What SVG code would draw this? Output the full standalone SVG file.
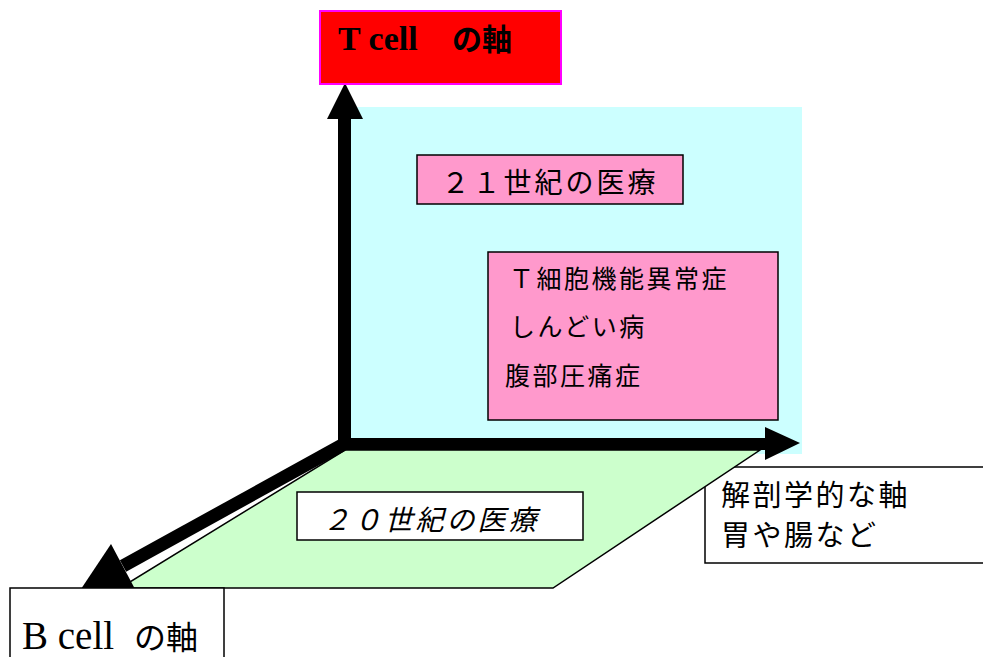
<svg xmlns="http://www.w3.org/2000/svg" width="983" height="657" viewBox="0 0 983 657">
<style>
.box{stroke:#000;stroke-width:1.5}
.cjk{font-family:"Noto Sans CJK JP",sans-serif;fill:#000}
.ser{font-family:"Liberation Serif","Noto Sans CJK JP",serif;fill:#000}
.arr{fill:#000}
</style>
<rect width="983" height="657" fill="#fff"/>
<g id="plane-21">
<rect x="345" y="107" width="457" height="347" fill="#CCFFFF"/>
</g>
<g id="node-21c">
<rect class="box" x="417" y="155" width="266" height="49" fill="#FF99CC"/>
<text class="cjk" x="550" y="193" font-size="28" letter-spacing="3" text-anchor="middle">２１世紀の医療</text>
</g>
<g id="node-tcell-disease">
<rect class="box" x="488" y="252" width="290" height="168" fill="#FF99CC"/>
<text class="cjk" font-size="25" letter-spacing="2.5"><tspan x="509" y="288">Ｔ細胞機能異常症</tspan><tspan x="510" y="336">しんどい病</tspan><tspan x="505" y="385">腹部圧痛症</tspan></text>
</g>
<g id="node-anatomy">
<rect class="box" x="705" y="467" width="290" height="96" fill="#fff"/>
<text class="cjk" font-size="29" letter-spacing="2.5"><tspan x="721" y="506">解剖学的な軸</tspan><tspan x="721" y="546">胃や腸など</tspan></text>
</g>
<g id="plane-20">
<polygon class="box" points="345,450 760,450 553,588 120,588" fill="#CCFFCC"/>
</g>
<g id="connectors">
<rect class="arr" x="338" y="118" width="13" height="332"/>
<polygon class="arr" points="345,83 327,119 363,119"/>
<rect class="arr" x="338" y="438" width="428" height="12"/>
<polygon class="arr" points="800,443 765,427 765,460"/>
<line x1="344" y1="444" x2="123" y2="566" stroke="#000" stroke-width="13"/>
<polygon class="arr" points="81,589 111,544 135,589"/>
</g>
<g id="node-20c">
<rect class="box" x="297" y="492" width="286" height="48" fill="#fff"/>
<text class="cjk" x="431" y="530" font-size="28" letter-spacing="3" font-style="italic" text-anchor="middle">２０世紀の医療</text>
</g>
<g id="node-bcell">
<rect class="box" x="10" y="588" width="214" height="80" fill="#fff"/>
<text class="ser" x="22" y="649" font-size="39">B cell <tspan x="134" font-size="32">の軸</tspan></text>
</g>
<g id="node-tcell">
<rect x="320" y="11" width="241" height="73" fill="#FF0000" stroke="#FF00FF" stroke-width="2"/>
<text class="ser" x="338" y="50" font-size="34" font-weight="bold">T cell　<tspan x="452" font-size="30">の軸</tspan></text>
</g>
</svg>
